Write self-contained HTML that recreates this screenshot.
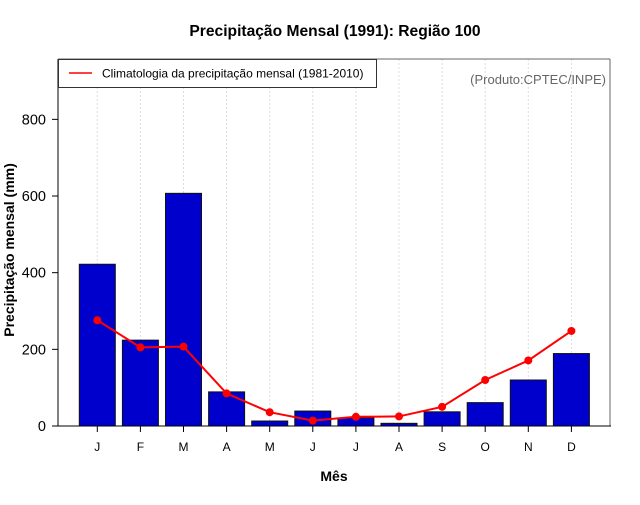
<!DOCTYPE html>
<html><head><meta charset="utf-8"><style>
body{margin:0;background:#fff}
svg text{font-family:"Liberation Sans",sans-serif}
</style></head><body>
<svg id="c" width="640" height="500">
<text x="335" y="36" text-anchor="middle" font-size="15.6" font-weight="bold">Precipitação Mensal (1991): Região 100</text>
<g id="grid"></g>
<line x1="58" y1="59" x2="610" y2="59" stroke="#666"/>
<line x1="610" y1="59" x2="610" y2="426" stroke="#666"/>
<g id="bars"></g>
<g id="line"></g>
<line x1="58" y1="59" x2="58" y2="426" stroke="#000"/>
<line x1="58" y1="426" x2="611" y2="426" stroke="#000"/>
<g id="axes"></g>
<g>
<rect x="58.5" y="59.5" width="318" height="28" fill="#fff" stroke="#333"/>
<line x1="69" y1="73" x2="92" y2="73" stroke="red" stroke-width="1.5"/>
<text x="102" y="77.5" font-size="12">Climatologia da precipitação mensal (1981-2010)</text>
</g>
<text x="606" y="84" text-anchor="end" font-size="13" fill="#666">(Produto:CPTEC/INPE)</text>
<text x="334" y="481" text-anchor="middle" font-size="14" font-weight="bold">Mês</text>
<text transform="translate(14,250) rotate(-90)" text-anchor="middle" font-size="14" font-weight="bold">Precipitação mensal (mm)</text>
</svg>
<script>
const months=["J","F","M","A","M","J","J","A","S","O","N","D"];
const obs=[422,224,607,89,13,39,21,7,37,61,120,189];
const clim=[276,205,207,85,36,14,24,25,50,120,171,248];
const yTicks=[0,200,400,600,800];
const NS="http://www.w3.org/2000/svg";
const x=i=>97.3+i*43.1;
const y=v=>426-v*0.3833;
function mk(t,a,p){const e=document.createElementNS(NS,t);for(const k in a)e.setAttribute(k,a[k]);p.appendChild(e);return e;}
const grid=document.getElementById('grid'),bars=document.getElementById('bars'),ln=document.getElementById('line'),axes=document.getElementById('axes');
months.forEach((m,i)=>{
 const g=mk('line',{x1:x(i),x2:x(i),y1:59,y2:426,stroke:'#ddd','stroke-dasharray':'2,2'},grid);
 
 
 const b=mk('rect',{x:x(i)-18,y:y(obs[i]),width:36,height:426-y(obs[i]),fill:'#0000cc',stroke:'#111','stroke-width':1},bars);
 
 
 const t=mk('line',{x1:x(i),x2:x(i),y1:426,y2:432,stroke:'#000'},axes);
 
 
 const l=mk('text',{x:x(i),y:451,'text-anchor':'middle','font-size':12},axes);
 l.textContent=m;
 
 
});
const pl=mk('polyline',{points:clim.map((v,i)=>x(i)+','+y(v)).join(' '),fill:'none',stroke:'red','stroke-width':2},ln);


clim.forEach((v,i)=>{
 const c=mk('circle',{cx:x(i),cy:y(v),r:4,fill:'red'},ln);
 
 
});
yTicks.forEach(v=>{
 const t=mk('line',{x1:52,x2:58,y1:y(v),y2:y(v),stroke:'#000'},axes);
 
 
 const l=mk('text',{x:46,y:y(v)+5,'text-anchor':'end','font-size':14.5},axes);
 l.textContent=v;
 
 
});
</script>
</body></html>
